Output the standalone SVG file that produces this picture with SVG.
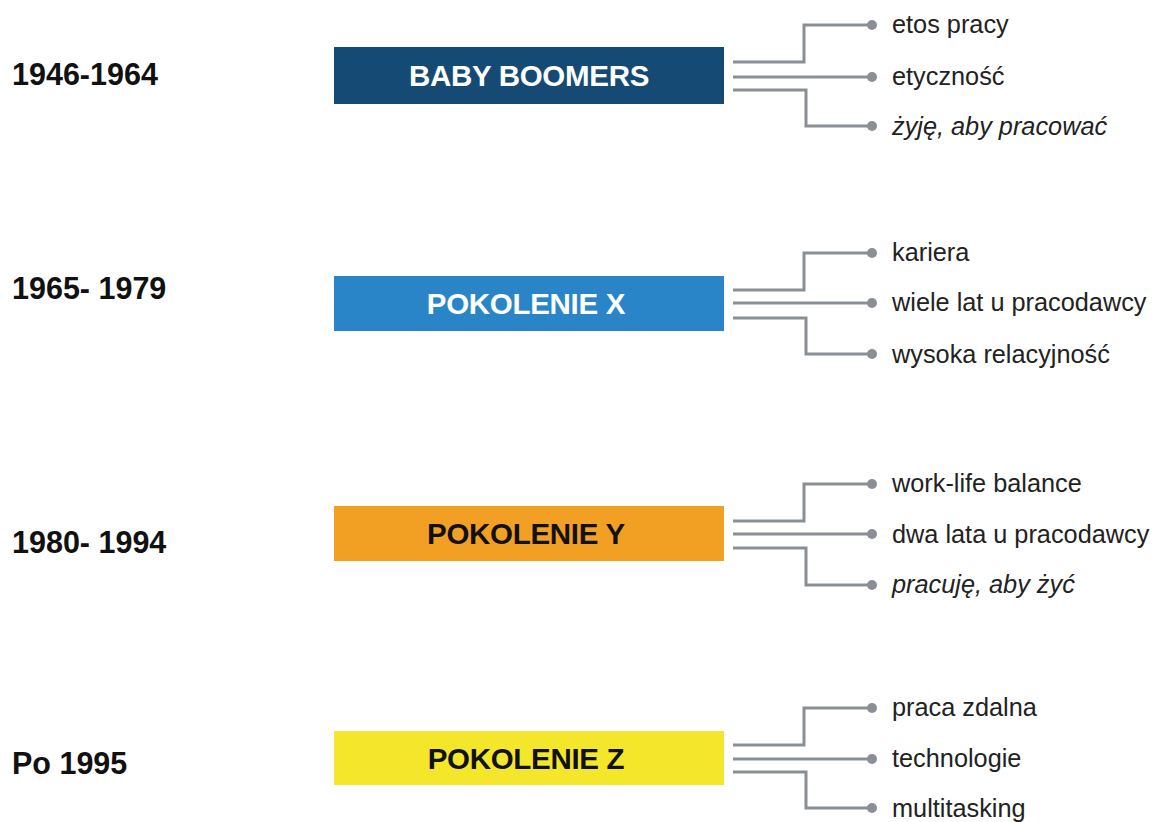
<svg xmlns="http://www.w3.org/2000/svg" width="1153" height="822" viewBox="0 0 1153 822">
<style>
.year{font-family:"Liberation Sans",Arial,sans-serif;font-weight:bold;font-size:30.5px;fill:#111}
.box-t{font-family:"Liberation Sans",Arial,sans-serif;font-weight:bold;font-size:29.5px;text-anchor:middle;letter-spacing:-0.3px}
.item{font-family:"Liberation Sans",Arial,sans-serif;font-size:25.3px;fill:#222}
.it{font-style:italic}
.conn{fill:none;stroke:#8a8f96;stroke-width:3}
.dot{fill:#8a8f96}
</style>
<rect width="1153" height="822" fill="#fff"/>
<g id="connectors">
  <path class="conn" d="M733 62 H804 V25 H872"/>
  <path class="conn" d="M733 77 H872"/>
  <path class="conn" d="M733 90 H806 V126 H872"/>
  <circle class="dot" cx="872" cy="25" r="5"/>
  <circle class="dot" cx="872" cy="77" r="5"/>
  <circle class="dot" cx="872" cy="126" r="5"/>
  <path class="conn" d="M733 290 H804 V253 H872"/>
  <path class="conn" d="M733 303 H872"/>
  <path class="conn" d="M733 318 H806 V354 H872"/>
  <circle class="dot" cx="872" cy="253" r="5"/>
  <circle class="dot" cx="872" cy="303" r="5"/>
  <circle class="dot" cx="872" cy="354" r="5"/>
  <path class="conn" d="M733 521 H804 V484 H872"/>
  <path class="conn" d="M733 534 H872"/>
  <path class="conn" d="M733 548 H806 V585 H872"/>
  <circle class="dot" cx="872" cy="484" r="5"/>
  <circle class="dot" cx="872" cy="534" r="5"/>
  <circle class="dot" cx="872" cy="585" r="5"/>
  <path class="conn" d="M733 745 H804 V708 H872"/>
  <path class="conn" d="M733 759 H872"/>
  <path class="conn" d="M733 772 H806 V808 H872"/>
  <circle class="dot" cx="872" cy="708" r="5"/>
  <circle class="dot" cx="872" cy="759" r="5"/>
  <circle class="dot" cx="872" cy="808" r="5"/>
</g>
<g id="years">
  <text class="year" x="12" y="85">1946-1964</text>
  <text class="year" x="12" y="299">1965- 1979</text>
  <text class="year" x="12" y="553">1980- 1994</text>
  <text class="year" x="12" y="774">Po 1995</text>
</g>
<g id="baby-boomers">
  <rect x="334" y="47" width="390" height="57" fill="#154a75"/>
  <text class="box-t" x="529" y="86" fill="#fff">BABY BOOMERS</text>
</g>
<g id="pokolenie-x">
  <rect x="334" y="276" width="390" height="55" fill="#2985c8"/>
  <text class="box-t" x="526" y="314" fill="#fff">POKOLENIE X</text>
</g>
<g id="pokolenie-y">
  <rect x="334" y="506" width="390" height="55" fill="#f2a024"/>
  <text class="box-t" x="526" y="544" fill="#111">POKOLENIE Y</text>
</g>
<g id="pokolenie-z">
  <rect x="334" y="731" width="390" height="54" fill="#f3e62b"/>
  <text class="box-t" x="526" y="769" fill="#111">POKOLENIE Z</text>
</g>
<g id="items-1">
  <text class="item" x="892" y="33">etos pracy</text>
  <text class="item" x="892" y="85">etyczność</text>
  <text class="item it" x="892" y="135">żyję, aby pracować</text>
</g>
<g id="items-2">
  <text class="item" x="892" y="261">kariera</text>
  <text class="item" x="892" y="311">wiele lat u pracodawcy</text>
  <text class="item" x="892" y="363">wysoka relacyjność</text>
</g>
<g id="items-3">
  <text class="item" x="892" y="492">work-life balance</text>
  <text class="item" x="892" y="543">dwa lata u pracodawcy</text>
  <text class="item it" x="892" y="593">pracuję, aby żyć</text>
</g>
<g id="items-4">
  <text class="item" x="892" y="716">praca zdalna</text>
  <text class="item" x="892" y="767">technologie</text>
  <text class="item" x="892" y="817">multitasking</text>
</g>
</svg>
